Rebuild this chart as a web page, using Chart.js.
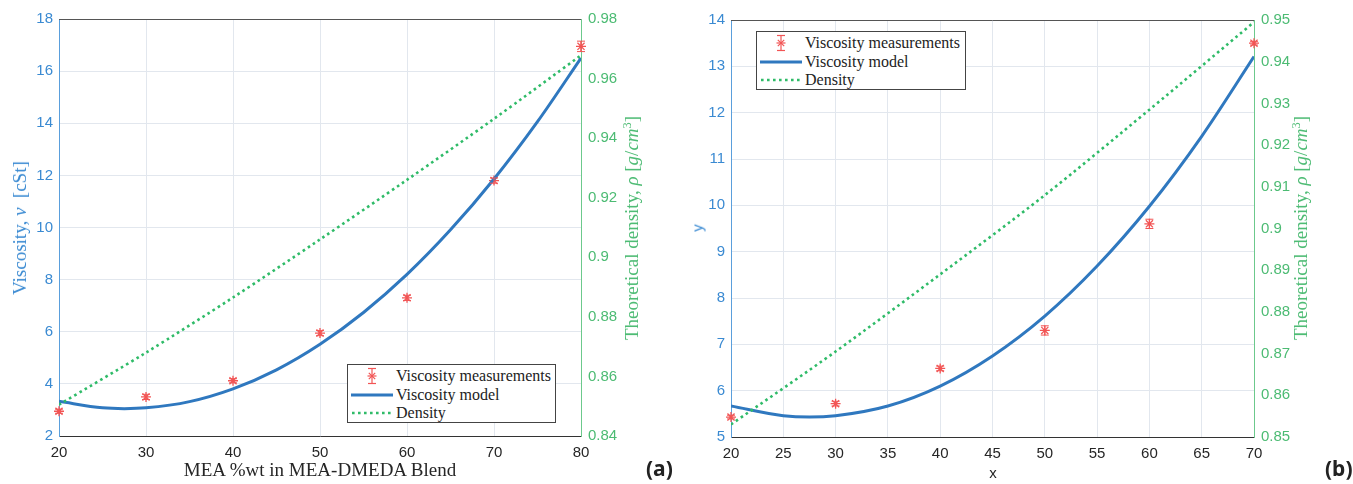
<!DOCTYPE html>
<html>
<head>
<meta charset="utf-8">
<script src="https://cdn.jsdelivr.net/npm/chart.js@4.4.1/dist/chart.umd.min.js"></script>
<style>
  body { margin: 0; background: #fff; }
  #page { position: relative; width: 1353px; height: 484px; overflow: hidden; }
  .wrap { position: absolute; top: 0; height: 484px; }
  .title { position: absolute; white-space: nowrap; transform: translate(-50%, -50%); }
  .rot { transform: translate(-50%, -50%) rotate(-90deg); }
  .serif { font-family: "Liberation Serif", serif; font-size: 19px; }
  .sans { font-family: "Liberation Sans", Arial, sans-serif; font-size: 15px; }
  .tag { position: absolute; font-family: "Noto Sans", sans-serif; font-weight: bold; font-size: 21px; color: #222; }
  .legend { position: absolute; background: #fff; border: 1px solid #444; box-sizing: border-box;
            font-family: "Liberation Serif", serif; font-size: 16px; color: #222; }
  .row { position: absolute; left: 0; height: 18px; line-height: 18px; white-space: nowrap; }
  .row svg { position: absolute; left: 3px; top: 0; }
  .row span { position: absolute; left: 48px; top: 0; }
  sup { font-size: 0.65em; vertical-align: 0.55em; line-height: 0; }
</style>
</head>
<body>
<div id="page">
  <div class="wrap" style="left:0;width:680px"><canvas id="chartA"></canvas></div>
  <div class="wrap" style="left:680px;width:673px"><canvas id="chartB"></canvas></div>

  <div class="title rot serif" style="left:20px;top:228px;color:#3a8ad2">Viscosity, <i>ν</i> &nbsp;[cSt]</div>
  <div class="title rot serif" style="left:632px;top:228px;color:#4cbb73">Theoretical density, <i>ρ</i> [<i>g</i>/<i>cm</i><sup>3</sup>]</div>
  <div class="title serif" style="left:320px;top:470px;color:#262626">MEA %wt in MEA-DMEDA Blend</div>
  <div class="tag" style="left:646px;top:454px">(a)</div>

  <div class="title rot sans" style="left:697px;top:228px;color:#3a8ad2">y</div>
  <div class="title rot serif" style="left:1301px;top:228px;color:#4cbb73">Theoretical density, <i>ρ</i> [<i>g</i>/<i>cm</i><sup>3</sup>]</div>
  <div class="title sans" style="left:993px;top:472px;color:#262626">x</div>
  <div class="tag" style="left:1325px;top:454px">(b)</div>

  <div class="legend" id="legendA" style="left:347px;top:364px;width:209px;height:59px"></div>
  <div class="legend" id="legendB" style="left:756px;top:31px;width:210px;height:59px"></div>
</div>

<script>
// (a) MEA-DMEDA blend
const measXA = [20, 30, 40, 50, 60, 70, 80];
const measYA = [2.95, 3.5, 4.12, 5.95, 7.3, 11.8, 16.95];
const measErrA = [0.08, 0.1, 0.08, 0.1, 0.1, 0.1, 0.2];
const modelXA = [20, 25, 27.5, 30, 35, 40, 45, 50, 55, 60, 65, 70, 75, 80];
const modelYA = [3.33, 3.08, 3.05, 3.08, 3.32, 3.81, 4.54, 5.52, 6.74, 8.2, 9.91, 11.86, 14.06, 16.5];
const densXA = [20, 30, 40, 50, 60, 70, 80];
const densYA = [0.8505, 0.868, 0.8865, 0.906, 0.926, 0.9465, 0.9678];
const ticksXA = [20, 30, 40, 50, 60, 70, 80];
const ticksYA = [2, 4, 6, 8, 10, 12, 14, 16, 18];
const ticksY2A = [0.84, 0.86, 0.88, 0.9, 0.92, 0.94, 0.96, 0.98];

// (b)
const measXB = [20, 30, 40, 50, 60, 70];
const measYB = [5.43, 5.72, 6.48, 7.3, 9.6, 13.5];
const measErrB = [0.04, 0.05, 0.05, 0.1, 0.1, 0.04];
const modelXB = [20, 25, 27.5, 30, 35, 40, 45, 50, 55, 60, 65, 70];
const modelYB = [5.67, 5.46, 5.43, 5.46, 5.67, 6.1, 6.75, 7.61, 8.69, 9.98, 11.49, 13.21];
const densXB = [20, 30, 40, 50, 60, 70];
const densYB = [0.853, 0.8705, 0.889, 0.908, 0.9285, 0.9495];
const ticksXB = [20, 25, 30, 35, 40, 45, 50, 55, 60, 65, 70];
const ticksYB = [5, 6, 7, 8, 9, 10, 11, 12, 13, 14];
const ticksY2B = [0.85, 0.86, 0.87, 0.88, 0.89, 0.9, 0.91, 0.92, 0.93, 0.94, 0.95];

const seriesNames = ['Viscosity measurements', 'Viscosity model', 'Density'];

const RED = '#f25555';
const BLUE_LINE = '#2f78bf';
const GREEN_LINE = '#2fbb68';
const BLUE_TXT = '#3a8ad2';
const GREEN_TXT = '#4cbb73';
const GRID = '#e2e7ee';
const tickFont = { family: '"Liberation Sans", Arial, sans-serif', size: 15 };

const pts = (xs, ys) => xs.map((x, i) => ({ x: x, y: ys[i] }));

// error bars + top box line
const extras = {
    id: 'extras',
    afterDatasetsDraw(chart) {
        const ctx = chart.ctx;
        const xs = chart.scales.x, ys = chart.scales.y;
        const ds = chart.data.datasets[0];
        ctx.save();
        ctx.strokeStyle = RED;
        ctx.lineWidth = 1;
        ds.data.forEach((p, i) => {
            const e = ds.errors[i];
            const px = xs.getPixelForValue(p.x);
            const top = ys.getPixelForValue(p.y + e);
            const bot = ys.getPixelForValue(p.y - e);
            ctx.beginPath();
            ctx.moveTo(px, top); ctx.lineTo(px, bot);
            ctx.moveTo(px - 4, top); ctx.lineTo(px + 4, top);
            ctx.moveTo(px - 4, bot); ctx.lineTo(px + 4, bot);
            ctx.stroke();
        });
        const a = chart.chartArea;
        ctx.strokeStyle = '#555';
        ctx.beginPath();
        ctx.moveTo(a.left, a.top + 0.5);
        ctx.lineTo(a.right, a.top + 0.5);
        ctx.stroke();
        ctx.restore();
    }
};

function fmt(v) { return String(+v.toFixed(3)); }

function makeChart(id, cfg) {
    const canvas = document.getElementById(id);
    canvas.width = cfg.w; canvas.height = 484;
    canvas.style.width = cfg.w + 'px'; canvas.style.height = '484px';
    return new Chart(canvas, {
        data: {
            datasets: [
                {
                    type: 'scatter', label: seriesNames[0], data: pts(cfg.measX, cfg.measY),
                    errors: cfg.measErr, yAxisID: 'y', order: 3, clip: false,
                    pointStyle: 'star', pointRadius: 5, borderColor: RED, backgroundColor: RED, borderWidth: 1.3
                },
                {
                    type: 'line', label: seriesNames[1], data: pts(cfg.modelX, cfg.modelY), yAxisID: 'y', order: 2,
                    borderColor: BLUE_LINE, borderWidth: 3, pointRadius: 0, tension: 0.4,
                    cubicInterpolationMode: 'monotone', fill: false
                },
                {
                    type: 'line', label: seriesNames[2], data: pts(cfg.densX, cfg.densY), yAxisID: 'y2', order: 1,
                    borderColor: GREEN_LINE, borderWidth: 2.6, borderDash: [2.6, 3.4], pointRadius: 0,
                    tension: 0.3, fill: false
                }
            ]
        },
        options: {
            responsive: false,
            animation: false,
            layout: { padding: { top: cfg.top, left: 0, right: 0, bottom: 0 } },
            plugins: { legend: { display: false }, tooltip: { enabled: false } },
            scales: {
                x: {
                    type: 'linear', min: cfg.ticksX[0], max: cfg.ticksX[cfg.ticksX.length - 1],
                    afterBuildTicks: s => { s.ticks = cfg.ticksX.map(v => ({ value: v })); },
                    afterFit: s => { s.height = 484 - cfg.bottom; },
                    grid: { color: GRID, drawTicks: false },
                    border: { color: '#333', width: 1 },
                    ticks: { color: '#262626', font: tickFont, padding: 8, maxRotation: 0, callback: fmt }
                },
                y: {
                    type: 'linear', position: 'left', min: cfg.ticksY[0], max: cfg.ticksY[cfg.ticksY.length - 1],
                    afterBuildTicks: s => { s.ticks = cfg.ticksY.map(v => ({ value: v })); },
                    afterFit: s => { s.width = cfg.left; },
                    grid: { color: GRID, drawTicks: false },
                    border: { color: '#5a9fdc', width: 1 },
                    ticks: { color: BLUE_TXT, font: tickFont, padding: 6, callback: fmt }
                },
                y2: {
                    type: 'linear', position: 'right', min: cfg.ticksY2[0], max: cfg.ticksY2[cfg.ticksY2.length - 1],
                    afterBuildTicks: s => { s.ticks = cfg.ticksY2.map(v => ({ value: v })); },
                    afterFit: s => { s.width = cfg.w - cfg.right; },
                    grid: { display: false, drawTicks: false },
                    border: { color: '#6cc98c', width: 1 },
                    ticks: { color: GREEN_TXT, font: tickFont, padding: 7, callback: fmt }
                }
            }
        },
        plugins: [extras]
    });
}

makeChart('chartA', {
    w: 680, left: 59, right: 581, top: 19, bottom: 436,
    measX: measXA, measY: measYA, measErr: measErrA,
    modelX: modelXA, modelY: modelYA, densX: densXA, densY: densYA,
    ticksX: ticksXA, ticksY: ticksYA, ticksY2: ticksY2A
});
makeChart('chartB', {
    w: 673, left: 51, right: 574, top: 20, bottom: 437,
    measX: measXB, measY: measYB, measErr: measErrB,
    modelX: modelXB, modelY: modelYB, densX: densXB, densY: densYB,
    ticksX: ticksXB, ticksY: ticksYB, ticksY2: ticksY2B
});

// legends
const swatches = [
    '<svg width="42" height="18"><g stroke="' + RED + '" stroke-width="1.2">' +
      '<line x1="21" y1="1.5" x2="21" y2="16.5"/><line x1="17" y1="1.5" x2="25" y2="1.5"/><line x1="17" y1="16.5" x2="25" y2="16.5"/>' +
      '<line x1="16.5" y1="9" x2="25.5" y2="9"/><line x1="17.8" y1="5.8" x2="24.2" y2="12.2"/><line x1="17.8" y1="12.2" x2="24.2" y2="5.8"/></g></svg>',
    '<svg width="42" height="18"><line x1="0" y1="9" x2="42" y2="9" stroke="' + BLUE_LINE + '" stroke-width="3"/></svg>',
    '<svg width="42" height="18"><line x1="1" y1="9" x2="42" y2="9" stroke="' + GREEN_LINE + '" stroke-width="2.6" stroke-dasharray="2.6 3.4"/></svg>'
];
['legendA', 'legendB'].forEach(id => {
    const box = document.getElementById(id);
    const tops = [2, 20.5, 39];
    seriesNames.forEach((name, i) => {
        const row = document.createElement('div');
        row.className = 'row';
        row.style.top = tops[i] + 'px';
        row.innerHTML = swatches[i] + '<span>' + name + '</span>';
        box.appendChild(row);
    });
});
</script>
</body>
</html>
